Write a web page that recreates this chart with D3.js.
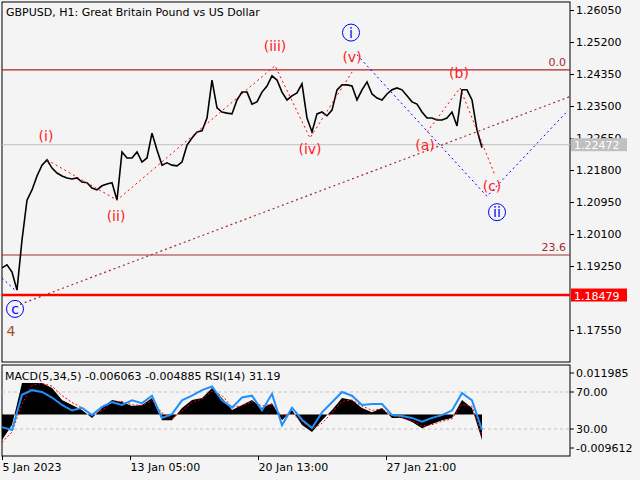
<!DOCTYPE html>
<html><head><meta charset="utf-8">
<script src="https://cdn.jsdelivr.net/npm/d3@7"></script>
<style>body{margin:0;background:#f4f4f4}svg{display:block}text{font-family:"DejaVu Sans",sans-serif}</style>
</head><body><svg id="c" width="640" height="480"></svg>
<script>
const prices=[1.1920,1.1928,1.1909,1.1861,1.1994,1.2100,1.2127,1.2164,1.2193,1.2207,1.2185,1.2172,1.2164,1.2159,1.2156,1.2159,1.2148,1.2146,1.2132,1.2127,1.2138,1.2143,1.2146,1.2100,1.2228,1.2212,1.2212,1.2228,1.2201,1.2212,1.2278,1.2233,1.2193,1.2199,1.2193,1.2191,1.2201,1.2246,1.2265,1.2281,1.2284,1.2318,1.2419,1.2345,1.2334,1.2331,1.2329,1.2366,1.2387,1.2387,1.2355,1.2361,1.2387,1.2403,1.2430,1.2419,1.2387,1.2366,1.2377,1.2385,1.2409,1.2318,1.2281,1.2329,1.2334,1.2324,1.2339,1.2393,1.2406,1.2406,1.2403,1.2366,1.2393,1.2414,1.2382,1.2371,1.2366,1.2382,1.2393,1.2398,1.2393,1.2377,1.2361,1.2355,1.2334,1.2318,1.2318,1.2313,1.2313,1.2318,1.2334,1.2297,1.2393,1.2393,1.2366,1.2286,1.2239];
const macd=[-0.0073,-0.0030,0.0091,0.0091,0.0091,0.0077,0.0042,0.0028,0.0013,-0.0010,0.0019,0.0042,0.0036,0.0025,0.0028,0.0048,-0.0016,-0.0016,0.0019,0.0042,0.0048,0.0077,0.0048,0.0013,0.0028,0.0042,0.0019,0.0033,-0.0016,0.0013,-0.0030,-0.0050,-0.0016,0.0013,0.0048,0.0042,0.0019,0.0007,0.0019,-0.0010,-0.0010,-0.0021,-0.0039,-0.0027,-0.0016,-0.0010,0.0042,0.0019,-0.0073];
const signal=[-0.0080,-0.0050,0.0030,0.0085,0.0090,0.0082,0.0055,0.0035,0.0020,0.0000,0.0012,0.0035,0.0038,0.0028,0.0027,0.0040,0.0005,-0.0012,0.0010,0.0035,0.0045,0.0068,0.0055,0.0022,0.0025,0.0038,0.0025,0.0030,-0.0005,0.0005,-0.0020,-0.0042,-0.0025,0.0005,0.0038,0.0042,0.0025,0.0012,0.0017,-0.0004,-0.0009,-0.0018,-0.0033,-0.0029,-0.0019,-0.0012,0.0030,0.0024,-0.0060];
const rsi=[32,29,67,72,70,64,56,50,53,45,54,59,56,61,58,66,42,46,61,66,72,76,61,53,64,66,50,68,34,53,40,31,48,59,70,66,56,57,57,45,44,42,38,42,45,50,69,61,29];
const priceTicks=[1.26050,1.25200,1.24350,1.23500,1.22650,1.21800,1.20950,1.20100,1.19250,1.17550];
const dateTicks=[{i:0,t:"5 Jan 2023"},{i:25.6,t:"13 Jan 05:00"},{i:51.2,t:"20 Jan 13:00"},{i:76.8,t:"27 Jan 21:00"}];
const redWave=[[9,1.2207],[23,1.2100],[54.6,1.2457],[61.6,1.2265],[70,1.2440]];
const redWave2=[[85,1.2281],[91.6,1.2398],[98.6,1.2166]];
const blueWave=[[71,1.2486],[97,1.2110],[113.2,1.2338]];
const blueStart=[[0,1.1893],[2.6,1.1861]];
const trendLine=[[3.6,1.1823],[113.6,1.2375]];
const fib0=1.2446, fib236=1.19542, support=1.18479, current=1.22472;
const waveLabels=[{i:8.8,p:1.2256,t:"(i)"},{i:22.8,p:1.2045,t:"(ii)"},{i:54.6,p:1.2495,t:"(iii)"},{i:61.6,p:1.2222,t:"(iv)"},{i:70,p:1.2467,t:"(v)"},{i:84.6,p:1.2233,t:"(a)"},{i:91.4,p:1.2424,t:"(b)"},{i:98,p:1.2124,t:"(c)"}];
const circLabels=[{i:69.8,p:1.2545,t:"i"},{i:99,p:1.2068,t:"ii"},{i:2.6,p:1.1811,t:"c"}];

const svg=d3.select("#c");
const L=2,R=570,T=2,B=362,ST=365,SB=456;
const x=d3.scaleLinear().domain([0,96]).range([2,482]);
const y=d3.scaleLinear().domain([1.26050,1.17550]).range([10,330]);
const yM=d3.scaleLinear().domain([0.011985,-0.009612]).range([373,448]);
const yR=d3.scaleLinear().domain([70,30]).range([392,429]);
const xs=d3.scaleLinear().domain([0,48]).range([2,482]);
svg.append("rect").attr("width",640).attr("height",480).attr("fill","#f4f4f4");
const g=svg.append("g");
svg.append("clipPath").attr("id","cp").append("rect").attr("x",L).attr("y",T).attr("width",R-L).attr("height",B-T);
const m=svg.append("g").attr("clip-path","url(#cp)");
const hl=(p,c,w)=>m.append("line").attr("x1",L).attr("x2",R).attr("y1",y(p)).attr("y2",y(p)).attr("stroke",c).attr("stroke-width",w);
hl(fib0,"#b22222",1.2);hl(fib236,"#a52a2a",1.2);hl(current,"#c0c0c0",1);hl(support,"#ff0000",2.5);
const ln=d3.line().x(d=>x(d[0])).y(d=>y(d[1]));
m.append("path").attr("d",ln(trendLine)).attr("fill","none").attr("stroke","#a52a2a").attr("stroke-dasharray","2,3").attr("stroke-width",1.2);
m.append("path").attr("d",d3.line().x((d,i)=>x(i)).y(d=>y(d))(prices)).attr("fill","none").attr("stroke","#000").attr("stroke-width",1.6);
[redWave,redWave2].forEach(w=>m.append("path").attr("d",ln(w)).attr("fill","none").attr("stroke","#ff0000").attr("stroke-dasharray","2,3").attr("stroke-width",1));
[blueWave,blueStart].forEach(w=>m.append("path").attr("d",ln(w)).attr("fill","none").attr("stroke","#0000ff").attr("stroke-dasharray","2,3").attr("stroke-width",1));
waveLabels.forEach(d=>m.append("text").attr("x",x(d.i)).attr("y",y(d.p)).attr("text-anchor","middle").attr("font-size",14).attr("fill","#ff2020").text(d.t));
circLabels.forEach(d=>{m.append("circle").attr("cx",x(d.i)).attr("cy",y(d.p)).attr("r",8.5).attr("fill","none").attr("stroke","#0000ff");
 m.append("text").attr("x",x(d.i)).attr("y",y(d.p)+5).attr("text-anchor","middle").attr("font-size",14).attr("fill","#0000ff").text(d.t);});
m.append("text").attr("x",x(1.8)).attr("y",y(1.1739)).attr("font-size",14).attr("fill","#a0522d").attr("text-anchor","middle").text("4");
m.append("text").attr("x",566).attr("y",y(fib0)-4).attr("text-anchor","end").attr("font-size",11).attr("fill","#a52a2a").text("0.0");
m.append("text").attr("x",566).attr("y",y(fib236)-4).attr("text-anchor","end").attr("font-size",11).attr("fill","#a52a2a").text("23.6");
m.append("text").attr("x",6).attr("y",16).attr("font-size",11).attr("fill","#000").text("GBPUSD, H1:  Great Britain Pound vs US Dollar");
g.append("rect").attr("x",L).attr("y",T).attr("width",R-L).attr("height",B-T).attr("fill","none").attr("stroke","#000");
g.append("rect").attr("x",L).attr("y",ST).attr("width",R-L).attr("height",SB-ST).attr("fill","none").attr("stroke","#000");
const yAx=svg.append("g").attr("transform",`translate(${R},0)`).call(d3.axisRight(y).tickValues(priceTicks).tickFormat(d3.format(".5f")).tickSize(4).tickPadding(2));
yAx.select(".domain").remove();yAx.selectAll("text").attr("font-size",11).attr("font-family","DejaVu Sans");
const box=(p,c)=>{svg.append("rect").attr("x",R+1).attr("y",y(p)-6.5).attr("width",56).attr("height",13).attr("fill",c);
 svg.append("text").attr("x",R+4).attr("y",y(p)+4.5).attr("font-size",11).attr("fill","#fff").text(p.toFixed(5));};
box(current,"#c0c0c0");box(support,"#ff0000");
const s=svg.append("g");
[70,30].forEach(v=>s.append("line").attr("x1",L).attr("x2",R).attr("y1",yR(v)).attr("y2",yR(v)).attr("stroke","#c0c0c0").attr("stroke-dasharray","3,3"));
s.append("path").attr("d",d3.area().x((d,i)=>xs(i)).y0(yM(0)).y1(d=>yM(d))(macd)).attr("fill","#000");
s.append("path").attr("d",d3.line().x((d,i)=>xs(i)).y(d=>yM(d))(signal)).attr("fill","none").attr("stroke","#ff0000").attr("stroke-dasharray","2,2").attr("stroke-width",1);
s.append("path").attr("d",d3.line().x((d,i)=>xs(i)).y(d=>yR(d))(rsi)).attr("fill","none").attr("stroke","#1e90ff").attr("stroke-width",2);
s.append("text").attr("x",5).attr("y",380).attr("font-size",11).text("MACD(5,34,5) -0.006063 -0.004885 RSI(14) 31.19");
const sub=[["0.011985",yM(0.011985)],["70.00",yR(70)],["30.00",yR(30)],["-0.009612",yM(-0.009612)]];
sub.forEach(d=>{s.append("line").attr("x1",R).attr("x2",R+4).attr("y1",d[1]).attr("y2",d[1]).attr("stroke","#000");
 s.append("text").attr("x",R+6).attr("y",d[1]+4).attr("font-size",11).text(d[0]);});
const xAx=svg.append("g").attr("transform",`translate(0,${SB})`).call(d3.axisBottom(x).tickValues(dateTicks.map(d=>d.i)).tickFormat((d,i)=>dateTicks[i].t).tickSize(4).tickPadding(3));
xAx.select(".domain").remove();xAx.selectAll("text").attr("font-size",11).attr("text-anchor","start").attr("font-family","DejaVu Sans");
</script></body></html>
